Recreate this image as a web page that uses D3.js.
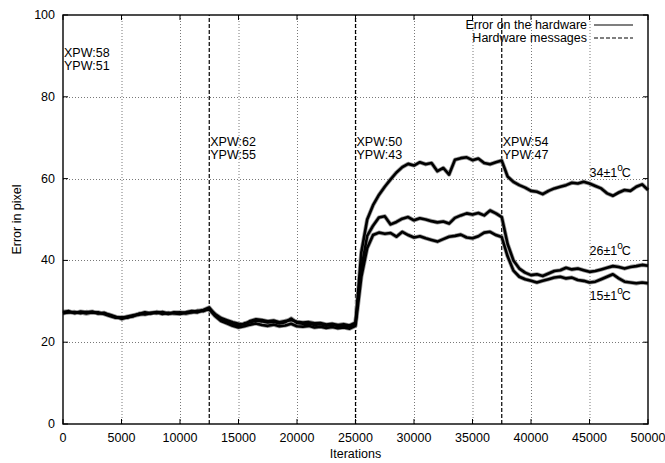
<!DOCTYPE html>
<html>
  <head>
    <script src="https://d3js.org/d3.v7.min.js"></script>
  </head>
  <body>
    <svg id="viz" width="665" height="463"></svg>
  </body>
  <script>
    // sampling every 500 iterations
    const iterations = d3.range(0, 50001, 500);

    const err34 = [
      27.4, 27.6, 27.1, 27.5, 27.3, 27.5, 27.0, 27.2, 26.6, 26.1, 25.9, 26.3, 26.6, 26.9, 27.3, 27.0, 27.4, 27.2, 26.9, 27.3, 27.1, 27.3, 27.6, 27.5, 27.9, 28.5,
      26.7, 25.6, 25.0, 24.5, 24.0, 24.6, 24.9, 25.3, 25.1, 24.8, 25.0, 24.6, 24.9, 25.8, 24.7, 24.5, 24.6, 24.2, 24.4, 24.0, 24.3, 23.9, 24.1, 23.8,
      24.5, 42, 50, 53.5, 56, 58, 59.8, 61.5, 62.8, 63.6, 63.2, 64, 63.5, 63.8, 61.8, 62.6, 61.0, 64.6, 65.0, 65.2, 64.5, 64.9, 63.8, 63.5, 64, 64.4,
      60.5, 59.2, 58.4, 57.8, 57.0, 56.8, 56.2, 57.0, 57.6, 58.0, 58.4, 59.0, 58.8, 59.2, 58.8, 58.2, 57.6, 56.4, 55.8, 56.6, 57.2, 57.0, 58.0, 58.6, 57.2
    ];
    const err26 = [
      27.2, 27.3, 27.4, 27.1, 27.4, 27.2, 27.3, 26.9, 26.4, 26.0, 26.1, 26.0, 26.5, 26.7, 27.0, 27.2, 27.1, 27.4, 27.0, 27.2, 27.3, 27.0, 27.3, 27.7, 27.6, 28.2,
      26.9, 25.9, 25.4, 24.9, 24.5, 24.3, 25.2, 25.6, 25.4, 25.1, 25.3, 24.9, 25.2, 25.4, 25.0, 24.8, 24.9, 24.6, 24.7, 24.3, 24.5, 24.2, 24.4, 24.1,
      24.8, 38, 46, 48.5, 50.5, 50.8, 48.8, 49.4, 50.2, 50.6, 49.8, 50.3, 50.0, 49.6, 49.3, 49.5, 49.0, 50.4, 51.0, 51.5, 51.2, 51.6, 51.0, 52.2, 51.5, 50.6,
      44, 40, 38, 37, 36.4, 36.6, 36.2, 36.8, 37.4, 37.6, 38.2, 37.8, 38.0, 37.6, 37.2, 37.4, 37.8, 38.2, 38.6, 38.4, 38.0, 38.4, 38.6, 38.9, 38.7
    ];
    const err15 = [
      27.0, 27.4, 27.2, 27.3, 27.0, 27.3, 27.1, 27.0, 26.7, 26.2, 25.7, 26.1, 26.3, 27.0, 26.8, 27.1, 27.3, 26.9, 27.2, 27.0, 26.9, 27.2, 27.4, 27.3, 27.8, 28.0,
      26.4, 25.2, 24.6, 24.0, 23.6, 23.9, 24.3, 24.6, 24.2, 24.0, 24.3, 23.9, 24.1, 24.5, 23.9, 23.8, 24.0, 23.6, 23.8, 23.5, 23.7, 23.4, 23.6, 23.3,
      24.0, 36, 43, 46.2, 46.8, 46.5, 46.7, 45.8, 47.0, 46.2, 45.6, 45.9, 45.4, 45.0, 44.6, 45.2, 45.8, 46.0, 46.3, 45.6, 45.4, 45.9, 46.8, 47.0, 46.2, 45.7,
      41, 37.5, 36, 35.4, 35.0, 34.6, 35.0, 35.4, 35.8, 36.0, 35.6, 35.8, 35.2, 35.0, 34.6, 34.8, 35.4, 36.0, 36.6, 35.6, 34.8, 34.6, 34.4, 34.6, 34.4
    ];

    const hwMessages = [12500, 25000, 37500];
    const xpw = [58, 62, 50, 54];
    const ypw = [51, 55, 43, 47];
    const pwAt = [0, 12500, 25000, 37500];
    const pwLevel = [89.8, 68, 68, 68];

    const tempLabels = ["34±1", "26±1", "15±1"];
    const tempLevel = [60.5, 41.2, 30.2];

    const xTicks = d3.range(0, 50001, 5000);
    const yTicks = [0, 20, 40, 60, 80, 100];

    function draw() {
      const svg = d3.select("svg#viz");
      const width = 665, height = 463;
      const m = { left: 63, right: 17, top: 15, bottom: 39 };
      const font = "'Liberation Sans', Arial, sans-serif";

      const x = d3.scaleLinear().domain([0, 50000]).range([m.left, width - m.right]);
      const y = d3.scaleLinear().domain([0, 100]).range([height - m.bottom, m.top]);
      const [x0, x1] = x.range();
      const [y0, y1] = y.range();

      svg.append("rect").attr("width", width).attr("height", height).attr("fill", "#fff");

      // grid
      const grid = svg.append("g").attr("stroke", "#555").attr("stroke-width", 0.8)
        .attr("stroke-dasharray", "1,2");
      grid.selectAll(".gx").data(xTicks.slice(1, -1)).join("line")
        .attr("x1", d => x(d) + 0.5).attr("x2", d => x(d) + 0.5)
        .attr("y1", y0).attr("y2", y1);
      grid.selectAll(".gy").data(yTicks.slice(1, -1)).join("line")
        .attr("y1", d => Math.round(y(d)) + 0.5).attr("y2", d => Math.round(y(d)) + 0.5)
        .attr("x1", x0).attr("x2", x1);

      // hardware messages
      svg.append("g").selectAll("line").data(hwMessages).join("line")
        .attr("x1", d => x(d)).attr("x2", d => x(d))
        .attr("y1", y0).attr("y2", y1)
        .attr("stroke", "#000").attr("stroke-width", 1.2)
        .attr("stroke-dasharray", "4,2");

      // data lines
      const line = d3.line().x((d, i) => x(iterations[i])).y(d => y(d));
      const series = [err34, err26, err15];
      svg.append("g").selectAll("path").data(series).join("path")
        .attr("d", line).attr("fill", "none")
        .attr("stroke", "#999").attr("stroke-width", 4.2).attr("stroke-linejoin", "round");
      svg.append("g").selectAll("path").data(series).join("path")
        .attr("d", line).attr("fill", "none")
        .attr("stroke", "#000").attr("stroke-width", 2.6).attr("stroke-linejoin", "round");

      // border and ticks
      svg.append("rect").attr("x", x0).attr("y", y1)
        .attr("width", x1 - x0).attr("height", y0 - y1)
        .attr("fill", "none").attr("stroke", "#000").attr("stroke-width", 1.4);

      const ticks = svg.append("g").attr("stroke", "#000").attr("stroke-width", 1);
      xTicks.forEach(t => {
        ticks.append("line").attr("x1", x(t)).attr("x2", x(t)).attr("y1", y0).attr("y2", y0 - 5);
        ticks.append("line").attr("x1", x(t)).attr("x2", x(t)).attr("y1", y1).attr("y2", y1 + 5);
      });
      yTicks.forEach(t => {
        ticks.append("line").attr("y1", y(t)).attr("y2", y(t)).attr("x1", x0).attr("x2", x0 + 5);
        ticks.append("line").attr("y1", y(t)).attr("y2", y(t)).attr("x1", x1).attr("x2", x1 - 5);
      });

      const txt = svg.append("g").attr("font-family", font).attr("font-size", 12.5).attr("fill", "#000");

      txt.selectAll(".xt").data(xTicks).join("text")
        .attr("x", d => x(d)).attr("y", y0 + 18).attr("text-anchor", "middle").text(d => d);
      txt.selectAll(".yt").data(yTicks).join("text")
        .attr("x", x0 - 8).attr("y", d => y(d) + 4).attr("text-anchor", "end").text(d => d);

      txt.append("text").attr("x", (x0 + x1) / 2).attr("y", height - 5)
        .attr("text-anchor", "middle").text("Iterations");
      txt.append("text").attr("transform", `translate(21,${(y0 + y1) / 2}) rotate(-90)`)
        .attr("text-anchor", "middle").text("Error in pixel");

      // XPW / YPW annotations
      pwAt.forEach((p, i) => {
        const t = txt.append("text").attr("x", x(p) + 1).attr("y", y(pwLevel[i]));
        t.append("tspan").text("XPW:" + xpw[i]);
        t.append("tspan").attr("x", x(p) + 1).attr("dy", 13).text("YPW:" + ypw[i]);
      });

      // temperature labels
      tempLabels.forEach((l, i) => {
        const t = txt.append("text").attr("x", x(45000)).attr("y", y(tempLevel[i]));
        t.append("tspan").text(l);
        t.append("tspan").attr("dy", -6).attr("font-size", 10).text("o");
        t.append("tspan").attr("dy", 6).attr("dx", -1).text("C");
      });

      // legend
      const legend = [["Error on the hardware", null], ["Hardware messages", "4,2"]];
      legend.forEach(([label, dash], i) => {
        const ly = 29 + i * 13;
        txt.append("text").attr("x", 587).attr("y", ly).attr("text-anchor", "end").text(label);
        svg.append("line").attr("x1", 594).attr("x2", 633)
          .attr("y1", ly - 4).attr("y2", ly - 4)
          .attr("stroke", "#000").attr("stroke-width", 1.2)
          .attr("stroke-dasharray", dash);
      });
    }

    draw();
  </script>
  <style>
    body {
      margin: 0px;
    }
  </style>
</html>
